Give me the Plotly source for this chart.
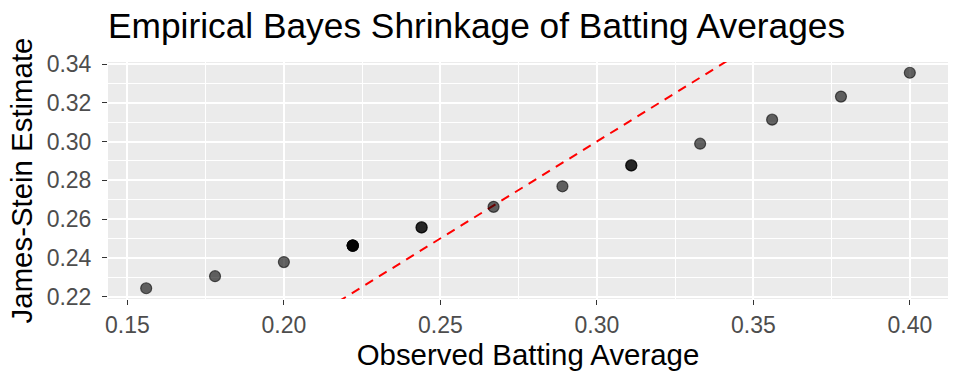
import plotly.graph_objects as go

observed = [0.400, 0.378, 0.356, 0.333, 0.311, 0.311, 0.289, 0.267, 0.244, 0.244,
            0.222, 0.222, 0.222, 0.222, 0.222, 0.200, 0.178, 0.156]
js_estimate = [0.3355, 0.3232, 0.3113, 0.2989, 0.2877, 0.2877, 0.2769, 0.2663, 0.2557, 0.2557,
               0.2463, 0.2463, 0.2463, 0.2463, 0.2463, 0.2378, 0.2305, 0.2243]
ref_line_x = [0.0, 1.0]
ref_line_y = [0.0, 1.0]
x_ticks = [0.15, 0.20, 0.25, 0.30, 0.35, 0.40]
y_ticks = [0.22, 0.24, 0.26, 0.28, 0.30, 0.32, 0.34]

fig = go.Figure()
fig.add_trace(go.Scatter(
    x=ref_line_x, y=ref_line_y, mode="lines",
    line=dict(color="red", width=2, dash="9px,7px"), showlegend=False, hoverinfo="skip"))
fig.add_trace(go.Scatter(
    x=observed, y=js_estimate, mode="markers",
    marker=dict(size=11, color="rgba(0,0,0,0.6)", line=dict(color="rgba(0,0,0,0.6)", width=1.2)),
    showlegend=False))

xmin, xmax = min(observed), max(observed)
ymin, ymax = min(js_estimate), max(js_estimate)
xpad = (xmax - xmin) * 0.05
ypad = (ymax - ymin) * 0.05

axis_common = dict(
    showgrid=True, gridcolor="white", gridwidth=1.6, zeroline=False,
    ticks="outside", ticklen=5, tickwidth=1.3, tickcolor="#333333",
    tickfont=dict(family="Liberation Sans, Arial", size=23, color="#4D4D4D"),
    showline=False,
    minor=dict(showgrid=True, gridcolor="white", gridwidth=0.7, ticks=""),
)

fig.update_layout(
    width=960, height=384,
    paper_bgcolor="white", plot_bgcolor="#EBEBEB",
    margin=dict(l=108, r=12, t=62, b=85),
    font=dict(family="Liberation Sans, Arial", color="black"),
    title=dict(text="Empirical Bayes Shrinkage of Batting Averages",
               font=dict(size=35.3, color="black"), x=0, xanchor="left", xref="paper",
               y=1 - 26 / 384, yanchor="middle"),
)
fig.update_xaxes(range=[xmin - xpad, xmax + xpad], tickvals=x_ticks,
                 ticktext=[f"{v:.2f}" for v in x_ticks],
                 title=dict(text="Observed Batting Average", font=dict(size=29.4), standoff=7),
                 **axis_common)
fig.update_yaxes(range=[ymin - ypad, ymax + ypad], tickvals=y_ticks,
                 ticktext=[f"{v:.2f}" for v in y_ticks],
                 ticklabelstandoff=6,
                 title=dict(text="James-Stein Estimate", font=dict(size=29.4), standoff=5),
                 **axis_common)
fig.update_xaxes(minor=dict(tickvals=[0.175, 0.225, 0.275, 0.325, 0.375]))
fig.update_yaxes(minor=dict(tickvals=[0.23, 0.25, 0.27, 0.29, 0.31, 0.33]))

fig.write_html("out.html", config={"displayModeBar": False},
               post_script="document.body.style.margin='0';")
